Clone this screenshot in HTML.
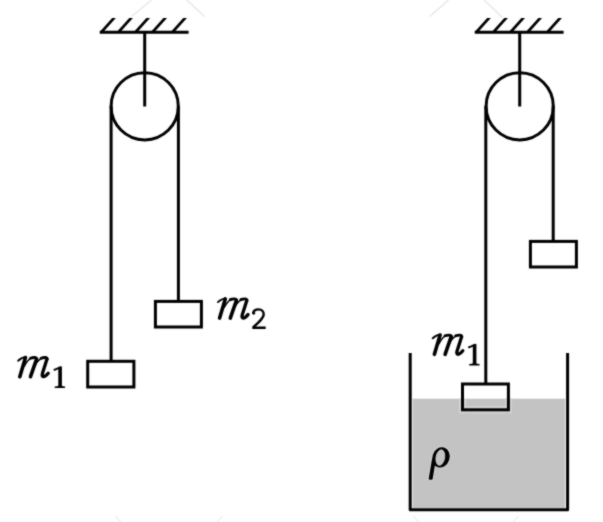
<!DOCTYPE html>
<html><head><meta charset="utf-8"><style>
html,body{margin:0;padding:0;background:#fff;}
body{width:603px;height:522px;overflow:hidden;font-family:"Liberation Serif",serif;}
svg{display:block;}
</style></head><body>
<svg width="603" height="522" viewBox="0 0 603 522">
<defs><filter id="soft" color-interpolation-filters="sRGB" filterUnits="userSpaceOnUse" x="0" y="0" width="603" height="522"><feConvolveMatrix order="3" kernelMatrix="1 2 1 2 12 2 1 2 1" edgeMode="duplicate" preserveAlpha="false"/></filter><clipPath id="wc"><rect x="412.6" y="398.7" width="152.6" height="109.3"/></clipPath></defs>
<rect width="603" height="522" fill="#fff"/>
<g filter="url(#soft)">
<g stroke="#e6e6e6" stroke-width="1.3" fill="none">
<line x1="131.5" y1="16.4" x2="151.6" y2="0"/><line x1="186.7" y1="0" x2="204.6" y2="16.4"/>
<line x1="429.7" y1="16.4" x2="448.4" y2="0"/><line x1="484.2" y1="0" x2="502.1" y2="17.2"/>
</g>
<g stroke="#eeeeee" stroke-width="1.5" fill="none">
<line x1="115" y1="516" x2="121" y2="522"/><line x1="223" y1="516" x2="217" y2="522"/>
<line x1="413" y1="516" x2="419" y2="522"/><line x1="519" y1="516" x2="513" y2="522"/>
</g>
<rect x="412.6" y="398.7" width="152.6" height="109.3" fill="#c3c3c3" stroke="none"/>
<g stroke="#000" stroke-width="3" fill="none">
<line x1="99.8" y1="32.2" x2="188.6" y2="32.2"/>
<polygon stroke="none" fill="#000" points="112.15,18 115.85,18 103.07,32.2 99.37,32.2"/>
<polygon stroke="none" fill="#000" points="129.25,18 132.95,18 120.17,32.2 116.47,32.2"/>
<polygon stroke="none" fill="#000" points="146.35,18 150.05,18 137.27,32.2 133.57,32.2"/>
<polygon stroke="none" fill="#000" points="163.35,18 167.05,18 154.27,32.2 150.57,32.2"/>
<polygon stroke="none" fill="#000" points="183.25,18 186.95,18 174.17,32.2 170.47,32.2"/>
<circle cx="144.7" cy="106.3" r="33.6" fill="none"/>
<line x1="144.7" y1="32" x2="144.7" y2="106.5"/>
<line x1="111.1" y1="106" x2="111.1" y2="361.3"/>
<line x1="178.4" y1="106" x2="178.4" y2="301.4"/>
<rect x="155.4" y="301.4" width="46" height="25.6" fill="none"/>
<rect x="87.7" y="361.3" width="46.2" height="25.7" fill="none"/>
<line x1="474.8" y1="32.2" x2="563.6" y2="32.2"/>
<polygon stroke="none" fill="#000" points="487.15,18 490.85,18 478.07,32.2 474.37,32.2"/>
<polygon stroke="none" fill="#000" points="504.25,18 507.95,18 495.17,32.2 491.47,32.2"/>
<polygon stroke="none" fill="#000" points="521.35,18 525.05,18 512.27,32.2 508.57,32.2"/>
<polygon stroke="none" fill="#000" points="538.35,18 542.05,18 529.27,32.2 525.57,32.2"/>
<polygon stroke="none" fill="#000" points="558.25,18 561.95,18 549.17,32.2 545.47,32.2"/>
<circle cx="519.7" cy="106.3" r="33.6" fill="none"/>
<line x1="519.7" y1="32" x2="519.7" y2="106.5"/>
<line x1="485.8" y1="106" x2="485.8" y2="384"/>
<line x1="553.2" y1="106" x2="553.2" y2="241.4"/>
<rect x="530.4" y="241.4" width="46" height="25.6" fill="none"/>
<rect x="462.5" y="384" width="45.9" height="25.8" fill="none" stroke="#d2d2d2" stroke-width="7" clip-path="url(#wc)"/><rect x="462.5" y="384" width="45.9" height="25.8" fill="none"/>
<path d="M410.2 353 V509.7 H567.6 V353" fill="none" stroke-linejoin="round"/>
</g>
<g>
<g transform="translate(17.200000000000003,356.3) scale(1.0,1.0)" fill="none" stroke="#000" stroke-linecap="round" stroke-linejoin="round"><path stroke-width="1.9" d="M0.9,4.4 C2.5,3 5.5,0.8 8.3,0.9"/><path stroke-width="3.6" d="M8.3,1.2 L2.6,20.4"/><path stroke-width="1.5" d="M7.2,9.8 C9.5,5 13,1.2 17.2,1.2 C19,1.2 19.8,2 19.6,3"/><path stroke-width="2.8" d="M13.2,1.9 C14.5,1.4 15.8,1.2 17.2,1.2 C19,1.2 19.8,2 19.6,3"/><path stroke-width="3.6" d="M19.4,2.8 L13.3,20.4"/><path stroke-width="1.5" d="M17.7,9.4 C20,5 24,1.2 28,1.2 C29.6,1.2 30.2,2 30,3"/><path stroke-width="2.8" d="M23.8,1.9 C25.1,1.4 26.5,1.2 28,1.2 C29.6,1.2 30.2,2 30,3"/><path stroke-width="3.3" d="M29.8,2.8 L25.2,17.3 C24.7,19.1 25.1,20.4 26.4,20.4 C28,20.4 29.6,18.6 31,16.9"/></g>
<g transform="translate(53.4,366.3)"><path fill="#000" d="M4.9,2.4 L8.5,0.1 L8.5,19.4 Q8.7,20.2 11.6,20.3 L11.7,21.8 L1.3,21.8 L1.3,20.3 Q4.7,20.2 4.9,19.4 Z"/><path fill="none" stroke="#000" stroke-width="2" stroke-linecap="round" d="M1.1,3.4 C3,2.7 5.3,1.6 7.3,0.9"/></g>
<g transform="translate(217,297.7) scale(1.0,1.0)" fill="none" stroke="#000" stroke-linecap="round" stroke-linejoin="round"><path stroke-width="1.9" d="M0.9,4.4 C2.5,3 5.5,0.8 8.3,0.9"/><path stroke-width="3.6" d="M8.3,1.2 L2.6,20.4"/><path stroke-width="1.5" d="M7.2,9.8 C9.5,5 13,1.2 17.2,1.2 C19,1.2 19.8,2 19.6,3"/><path stroke-width="2.8" d="M13.2,1.9 C14.5,1.4 15.8,1.2 17.2,1.2 C19,1.2 19.8,2 19.6,3"/><path stroke-width="3.6" d="M19.4,2.8 L13.3,20.4"/><path stroke-width="1.5" d="M17.7,9.4 C20,5 24,1.2 28,1.2 C29.6,1.2 30.2,2 30,3"/><path stroke-width="2.8" d="M23.8,1.9 C25.1,1.4 26.5,1.2 28,1.2 C29.6,1.2 30.2,2 30,3"/><path stroke-width="3.3" d="M29.8,2.8 L25.2,17.3 C24.7,19.1 25.1,20.4 26.4,20.4 C28,20.4 29.6,18.6 31,16.9"/></g>
<g transform="translate(251.7,307.9)"><circle cx="2.0" cy="5.3" r="1.45" fill="#000"/><path fill="none" stroke="#000" stroke-width="2.4" d="M1.5,5.4 C1.7,2.9 4.2,1.5 7.0,1.5 C10,1.5 12.0,3.6 12.0,6.5 C12.0,9.6 9,12.6 1.4,19.6"/><path fill="#000" d="M0.6,18.5 L2.8,18.5 L14.0,18.6 L14.0,21.2 L0.6,21.2 Z"/></g>
<g transform="translate(431.8,333.90000000000003) scale(1.0,1.0)" fill="none" stroke="#000" stroke-linecap="round" stroke-linejoin="round"><path stroke-width="1.9" d="M0.9,4.4 C2.5,3 5.5,0.8 8.3,0.9"/><path stroke-width="3.6" d="M8.3,1.2 L2.6,20.4"/><path stroke-width="1.5" d="M7.2,9.8 C9.5,5 13,1.2 17.2,1.2 C19,1.2 19.8,2 19.6,3"/><path stroke-width="2.8" d="M13.2,1.9 C14.5,1.4 15.8,1.2 17.2,1.2 C19,1.2 19.8,2 19.6,3"/><path stroke-width="3.6" d="M19.4,2.8 L13.3,20.4"/><path stroke-width="1.5" d="M17.7,9.4 C20,5 24,1.2 28,1.2 C29.6,1.2 30.2,2 30,3"/><path stroke-width="2.8" d="M23.8,1.9 C25.1,1.4 26.5,1.2 28,1.2 C29.6,1.2 30.2,2 30,3"/><path stroke-width="3.3" d="M29.8,2.8 L25.2,17.3 C24.7,19.1 25.1,20.4 26.4,20.4 C28,20.4 29.6,18.6 31,16.9"/></g>
<g transform="translate(467.9,343.8)"><path fill="#000" d="M4.9,2.4 L8.5,0.1 L8.5,19.4 Q8.7,20.2 11.6,20.3 L11.7,21.8 L1.3,21.8 L1.3,20.3 Q4.7,20.2 4.9,19.4 Z"/><path fill="none" stroke="#000" stroke-width="2" stroke-linecap="round" d="M1.1,3.4 C3,2.7 5.3,1.6 7.3,0.9"/></g>
<g>
<g stroke="#d6d6d6" stroke-width="2" stroke-linejoin="round">
<ellipse cx="441" cy="457.4" rx="8.6" ry="10.3" transform="rotate(18 441 457.4)" fill="#000"/>
<path d="M432.1,458.5 L436,458.5 L432.6,479.2 Q430.6,480.2 428.6,479.2 Z" fill="#000"/>
</g>
<ellipse cx="441" cy="457.4" rx="8.6" ry="10.3" transform="rotate(18 441 457.4)" fill="#000"/>
<path d="M432.1,458.5 L436,458.5 L432.6,479.2 Q430.6,480.2 428.6,479.2 Z" fill="#000"/>
<ellipse cx="440.35" cy="457.55" rx="4.3" ry="7.8" transform="rotate(10 440.35 457.55)" fill="#c3c3c3" stroke="#d0d0d0" stroke-width="0.8"/>
</g>
</g>
</g>
</svg>
</body></html>
